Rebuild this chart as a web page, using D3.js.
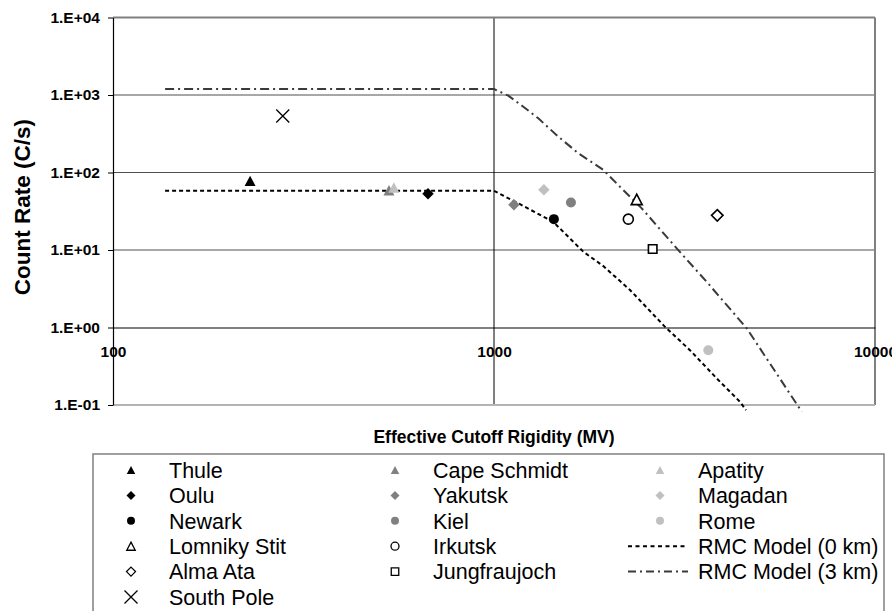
<!DOCTYPE html>
<html>
<head>
<meta charset="utf-8">
<script src="https://cdn.jsdelivr.net/npm/d3@7/dist/d3.min.js"></script>
<style>
  html, body { margin: 0; padding: 0; background: #fff; }
  svg { display: block; font-family: "Liberation Sans", Arial, sans-serif; }
</style>
</head>
<body>
<svg id="chart" width="892" height="611"></svg>
<script>
// ---- data ----
const stations = ["Thule", "Cape Schmidt", "Apatity", "Oulu", "Yakutsk", "Magadan",
  "Newark", "Kiel", "Rome", "Lomniky Stit", "Irkutsk", "Alma Ata", "Jungfraujoch", "South Pole"];
const rigidity = [229, 530, 546, 671, 1128, 1352, 1436, 1592, 3651, 2369, 2252, 3855, 2609, 279];
const countRate = [78, 59, 64, 53, 38.5, 60, 25, 41, 0.51, 45, 25, 28, 10.3, 536];

const model0Rigidity = [137, 1000, 1170, 1431, 1716, 1936, 2275, 2811, 3268, 3879, 4423, 4586];
const model0Count = [58, 58, 39, 23, 9.5, 6.2, 3.05, 1.02, 0.51, 0.21, 0.11, 0.086];
const model3Rigidity = [137, 1000, 1090, 1194, 1307, 1475, 1665, 1936, 2184, 2442, 3017, 3614, 4603, 6422];
const model3Count = [1195, 1195, 980, 706, 500, 290, 177, 108, 59.4, 34.5, 10.5, 3.9, 0.98, 0.082];

const yTicks = [0.1, 1, 10, 100, 1000, 10000];
const xTicks = [100, 1000, 10000];
const legendOrder = ["Thule", "Cape Schmidt", "Apatity", "Oulu", "Yakutsk", "Magadan",
  "Newark", "Kiel", "Rome", "Lomniky Stit", "Irkutsk", "RMC Model (0 km)",
  "Alma Ata", "Jungfraujoch", "RMC Model (3 km)", "South Pole"];

// ---- styles ----
const GREY = "#808080", LGREY = "#c0c0c0";
const markerStyle = {
  "Thule": {shape: "triangle", fill: "#000", stroke: "none"},
  "Cape Schmidt": {shape: "triangle", fill: GREY, stroke: "none"},
  "Apatity": {shape: "triangle", fill: LGREY, stroke: "none"},
  "Oulu": {shape: "diamond", fill: "#000", stroke: "none"},
  "Yakutsk": {shape: "diamond", fill: GREY, stroke: "none"},
  "Magadan": {shape: "diamond", fill: LGREY, stroke: "none"},
  "Newark": {shape: "circle", fill: "#000", stroke: "none"},
  "Kiel": {shape: "circle", fill: GREY, stroke: "none"},
  "Rome": {shape: "circle", fill: LGREY, stroke: "none"},
  "Lomniky Stit": {shape: "triangle", fill: "#fff", stroke: "#000"},
  "Irkutsk": {shape: "circle", fill: "#fff", stroke: "#000"},
  "Alma Ata": {shape: "diamond", fill: "#fff", stroke: "#000"},
  "Jungfraujoch": {shape: "square", fill: "#fff", stroke: "#000"},
  "South Pole": {shape: "x", fill: "none", stroke: "#000"}
};
const lineStyle = {
  "RMC Model (0 km)": {stroke: "#000", dash: "4,3", width: 2},
  "RMC Model (3 km)": {stroke: "#3a3a3a", dash: "9,4,2,4", width: 2}
};

function markerPath(shape, s) {
  if (shape === "triangle") {
    const h = s * 0.95;
    return `M0,${-h/2}L${s/2},${h/2}L${-s/2},${h/2}Z`;
  }
  if (shape === "diamond") return `M0,${-s/2}L${s/2},0L0,${s/2}L${-s/2},0Z`;
  if (shape === "square") return `M${-s/2},${-s/2}h${s}v${s}h${-s}Z`;
  if (shape === "circle") return d3.symbol(d3.symbolCircle, Math.PI * (s/2) * (s/2))();
  if (shape === "x") return `M${-s/2},${-s/2}L${s/2},${s/2}M${s/2},${-s/2}L${-s/2},${s/2}`;
}
const plotSize = {triangle: 11, diamond: 11.5, square: 8.5, circle: 10, x: 13};
const legSize = {triangle: 8.5, diamond: 9, square: 7.5, circle: 8, x: 13};

// ---- layout ----
const svg = d3.select("#chart");
const L = 113, R = 875, T = 17.5, B = 405;
const x = d3.scaleLog().domain([100, 10000]).range([L, R]);
const y = d3.scaleLog().domain([0.1, 10000]).range([B, T]);
const fmtE = v => { const e = Math.round(Math.log10(v)); return "1.E" + (e < 0 ? "-" : "+") + String(Math.abs(e)).padStart(2, "0"); };

// horizontal gridlines
svg.append("g").selectAll("line").data(yTicks.filter(v => v > 0.1 && v < 10000 && v !== 1)).join("line")
  .attr("x1", L).attr("x2", R).attr("y1", d => y(d)).attr("y2", d => y(d))
  .attr("stroke", "#505050").attr("stroke-width", 1.2);
// vertical gridline at 1000
svg.append("g").selectAll("line").data(xTicks.filter(v => v > 100 && v < 10000)).join("line")
  .attr("x1", d => x(d)).attr("x2", d => x(d)).attr("y1", T).attr("y2", B)
  .attr("stroke", "#000").attr("stroke-width", 1);

// plot border
svg.append("line").attr("x1", L).attr("x2", R).attr("y1", T).attr("y2", T).attr("stroke", GREY).attr("stroke-width", 2);
svg.append("line").attr("x1", R).attr("x2", R).attr("y1", T).attr("y2", B).attr("stroke", GREY).attr("stroke-width", 2);
svg.append("line").attr("x1", L).attr("x2", R).attr("y1", B).attr("y2", B).attr("stroke", "#b4b4b4").attr("stroke-width", 2);

// x axis at y = 1
const xAxis = svg.append("g").attr("transform", `translate(0,${y(1)})`)
  .call(d3.axisBottom(x).tickValues(xTicks).tickFormat(d3.format("d")).tickSize(0).tickPadding(0));
xAxis.select(".domain").attr("stroke", "#000").attr("stroke-width", 1.2);
xAxis.selectAll("text").attr("y", 24).attr("dy", "0.36em")
  .attr("font-size", 15.5).attr("font-weight", "bold").attr("fill", "#000")
  .attr("font-family", "Liberation Sans, Arial, sans-serif");

// y axis
const yAxis = svg.append("g").attr("transform", `translate(${L},0)`)
  .call(d3.axisLeft(y).tickValues(yTicks).tickFormat(fmtE).tickSize(5).tickSizeOuter(0).tickPadding(8));
yAxis.select(".domain").attr("stroke", "#000").attr("stroke-width", 1.2);
yAxis.selectAll(".tick line").attr("stroke", "#000");
yAxis.selectAll("text").attr("font-size", 15.5).attr("font-weight", "bold").attr("fill", "#000")
  .attr("font-family", "Liberation Sans, Arial, sans-serif");

// model lines
const lineGen = d3.line().x(d => x(d[0])).y(d => y(d[1]));
const m0 = model0Rigidity.map((r, i) => [r, model0Count[i]]);
const m3 = model3Rigidity.map((r, i) => [r, model3Count[i]]);
[["RMC Model (0 km)", m0], ["RMC Model (3 km)", m3]].forEach(([name, pts]) => {
  const st = lineStyle[name];
  svg.append("path").datum(pts).attr("d", lineGen).attr("fill", "none")
    .attr("stroke", st.stroke).attr("stroke-width", st.width).attr("stroke-dasharray", st.dash);
});

// station markers
stations.forEach((name, i) => {
  const st = markerStyle[name];
  svg.append("path")
    .attr("transform", `translate(${x(rigidity[i])},${y(countRate[i])})`)
    .attr("d", markerPath(st.shape, plotSize[st.shape]))
    .attr("fill", st.fill).attr("stroke", st.stroke === "none" ? null : st.stroke)
    .attr("stroke-width", st.shape === "x" ? 1.3 : 1.6);
});

// axis titles
svg.append("text").attr("transform", `translate(30,207) rotate(-90)`)
  .attr("text-anchor", "middle").attr("font-size", 22.5).attr("font-weight", "bold").text("Count Rate (C/s)");
svg.append("text").attr("x", 494).attr("y", 443).attr("text-anchor", "middle")
  .attr("font-size", 17.5).attr("font-weight", "bold").text("Effective Cutoff Rigidity (MV)");

// legend
svg.append("rect").attr("x", 93).attr("y", 454).attr("width", 791).attr("height", 170)
  .attr("fill", "#fff").attr("stroke", GREY).attr("stroke-width", 1.5);
const colMarker = [131, 395, 660], colText = [169, 433, 698];
const rowY = i => 470 + i * 25.4;
legendOrder.forEach((name, i) => {
  const r = Math.floor(i / 3), c = i % 3;
  const cy = rowY(r);
  if (lineStyle[name]) {
    const st = lineStyle[name];
    svg.append("line").attr("x1", colMarker[c] - 32).attr("x2", colMarker[c] + 28)
      .attr("y1", cy).attr("y2", cy).attr("stroke", st.stroke).attr("stroke-width", st.width)
      .attr("stroke-dasharray", name.includes("0 km") ? "4,3.5" : "8,4,2,4");
  } else {
    const st = markerStyle[name];
    svg.append("path").attr("transform", `translate(${colMarker[c]},${cy})`)
      .attr("d", markerPath(st.shape, legSize[st.shape]))
      .attr("fill", st.fill).attr("stroke", st.stroke === "none" ? null : st.stroke)
      .attr("stroke-width", 1.3);
  }
  svg.append("text").attr("x", colText[c]).attr("y", cy).attr("dy", "0.36em")
    .attr("font-size", 21.5).attr("fill", "#000").text(name);
});
</script>
</body>
</html>
